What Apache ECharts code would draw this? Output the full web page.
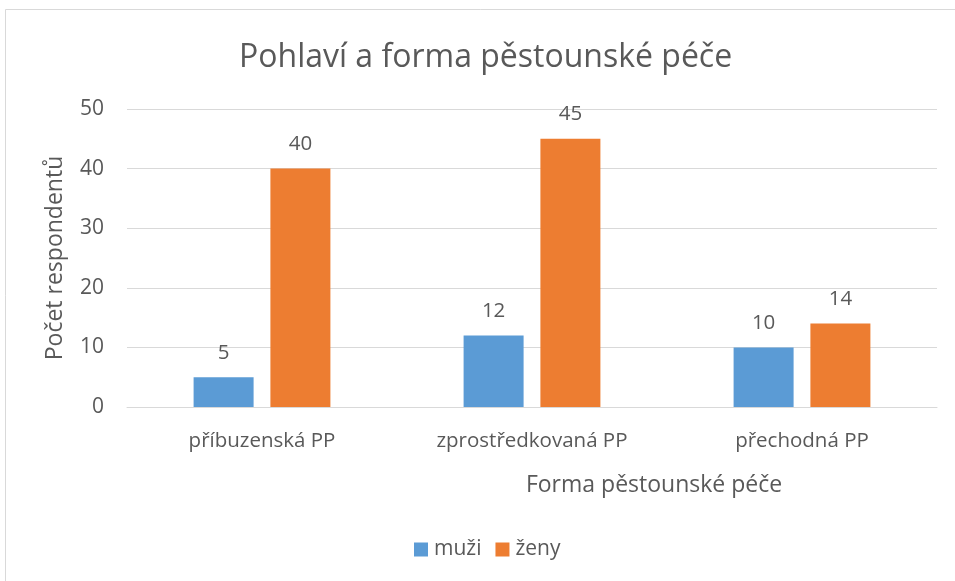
<!DOCTYPE html>
<html><head><meta charset="utf-8">
<script src="https://cdn.jsdelivr.net/npm/echarts@6/dist/echarts.min.js"></script>
<style>html,body{margin:0;padding:0;background:#fff}#c{width:955px;height:581px}</style>
</head><body><div id="c"></div>
<script>
const categories = ['příbuzenská PP', 'zprostředkovaná PP', 'přechodná PP'];
const muzi = [5, 12, 10];
const zeny = [40, 45, 14];
const yTicks = [0, 10, 20, 30, 40, 50];

const FONT = '"Open Sans", sans-serif';
const TXT = '#595959';
const chart = echarts.init(document.getElementById('c'), null, {renderer: 'canvas'});
chart.setOption({
  animation: false,
  backgroundColor: '#fff',
  textStyle: {fontFamily: FONT, color: TXT},
  graphic: [{
    type: 'rect', shape: {x: 5.5, y: 9.5, width: 1000, height: 1000},
    style: {fill: 'none', stroke: '#d9d9d9', lineWidth: 1}, silent: true
  }],
  title: {
    text: 'Pohlaví a forma pěstounské péče', left: 234, top: 37,
    textStyle: {fontFamily: FONT, fontSize: 32, fontWeight: 'normal', color: TXT}
  },
  legend: {
    bottom: 16, left: 409, itemWidth: 14, itemHeight: 14, itemGap: 14,
    icon: 'rect',
    textStyle: {fontFamily: FONT, fontSize: 21, color: TXT, padding: [0, 0, 0, 1]},
    data: ['muži', 'ženy']
  },
  grid: {left: 127, right: 18, top: 109, bottom: 174, containLabel: false},
  xAxis: {
    type: 'category', data: categories,
    name: 'Forma pěstounské péče', nameLocation: 'middle', nameGap: 67,
    nameTextStyle: {fontFamily: FONT, fontSize: 23, color: TXT, padding: [0, 0, 0, 244]},
    axisLine: {lineStyle: {color: '#d9d9d9'}},
    axisTick: {show: false},
    axisLabel: {fontFamily: FONT, fontSize: 20.5, color: TXT, margin: 24}
  },
  yAxis: {
    type: 'value', min: 0, max: 50, interval: 10,
    name: 'Počet respondentů', nameLocation: 'middle', nameGap: 60,
    nameTextStyle: {fontFamily: FONT, fontSize: 23, color: TXT},
    axisLine: {show: false}, axisTick: {show: false},
    axisLabel: {fontFamily: FONT, fontSize: 21, color: TXT, margin: 23,
      formatter: v => yTicks.includes(v) ? String(v) : ''},
    splitLine: {lineStyle: {color: '#d9d9d9'}}
  },
  series: [
    {name: 'muži', type: 'bar', data: muzi, barWidth: 60, barGap: '28%',
     itemStyle: {color: '#5B9BD5'},
     label: {show: true, position: 'top', distance: 14, fontFamily: FONT, fontSize: 20.5, color: TXT}},
    {name: 'ženy', type: 'bar', data: zeny, barWidth: 60, barGap: '28%',
     itemStyle: {color: '#ED7D31'},
     label: {show: true, position: 'top', distance: 14, fontFamily: FONT, fontSize: 20.5, color: TXT}}
  ]
});
</script></body></html>
